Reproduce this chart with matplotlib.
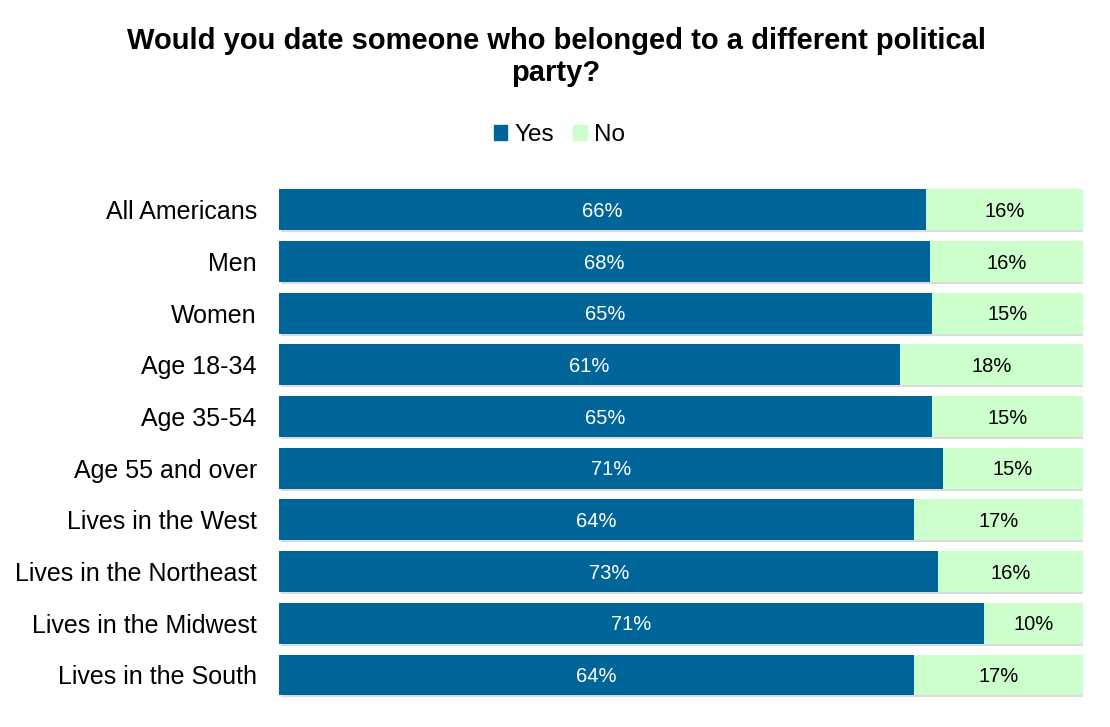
import numpy as np
import matplotlib.pyplot as plt
import matplotlib.patheffects as pe
from matplotlib.patches import Patch

plt.rcParams['font.family'] = ['Liberation Sans', 'DejaVu Sans']

categories = ["All Americans", "Men", "Women", "Age 18-34", "Age 35-54",
              "Age 55 and over", "Lives in the West", "Lives in the Northeast",
              "Lives in the Midwest", "Lives in the South"]
yes = [66, 68, 65, 61, 65, 71, 64, 73, 71, 64]
no = [16, 16, 15, 18, 15, 15, 17, 16, 10, 17]

yes_color = "#006699"
no_color = "#CCFFCC"

yes = np.array(yes, dtype=float)
no = np.array(no, dtype=float)
total = yes + no
yes_frac = yes / total
no_frac = no / total

fig = plt.figure(figsize=(11.1, 7.27), dpi=100)
ax = fig.add_axes([0.2514, 0.036, 0.7243, 0.711])

y = np.arange(len(categories))
shadow = [pe.SimplePatchShadow(offset=(1.5, -1.5), shadow_rgbFace='#999999', alpha=0.35), pe.Normal()]
ax.barh(y, yes_frac, height=0.79, color=yes_color, path_effects=shadow)
ax.barh(y, no_frac, left=yes_frac, height=0.79, color=no_color, path_effects=shadow)

for i in range(len(categories)):
    ax.text(yes_frac[i] / 2, y[i] + 0.03, f"{int(yes[i])}%", ha='center', va='center',
            color='white', fontsize=14.5)
    ax.text(yes_frac[i] + no_frac[i] / 2, y[i] + 0.03, f"{int(no[i])}%", ha='center', va='center',
            color='black', fontsize=14.5)

ax.set_ylim(len(categories) - 0.5, -0.5)
ax.set_xlim(0, 1)
ax.set_yticks(y)
ax.set_yticklabels(categories, fontsize=18)
ax.tick_params(axis='y', length=0, pad=16)
ax.set_xticks([])
for s in ax.spines.values():
    s.set_visible(False)

fig.text(0.501, 0.921, "Would you date someone who belonged to a different political\nparty?",
         ha='center', va='center', fontsize=21, fontweight='bold', linespacing=1.18)

handles = [Patch(color=yes_color, label='Yes'), Patch(color=no_color, label='No')]
fig.legend(handles=handles, loc='center', bbox_to_anchor=(0.504, 0.814), ncol=2,
           frameon=False, fontsize=17.5, handlelength=0.55, handleheight=0.55,
           handletextpad=0.3, columnspacing=0.8)

plt.savefig("out.png", dpi=100)
